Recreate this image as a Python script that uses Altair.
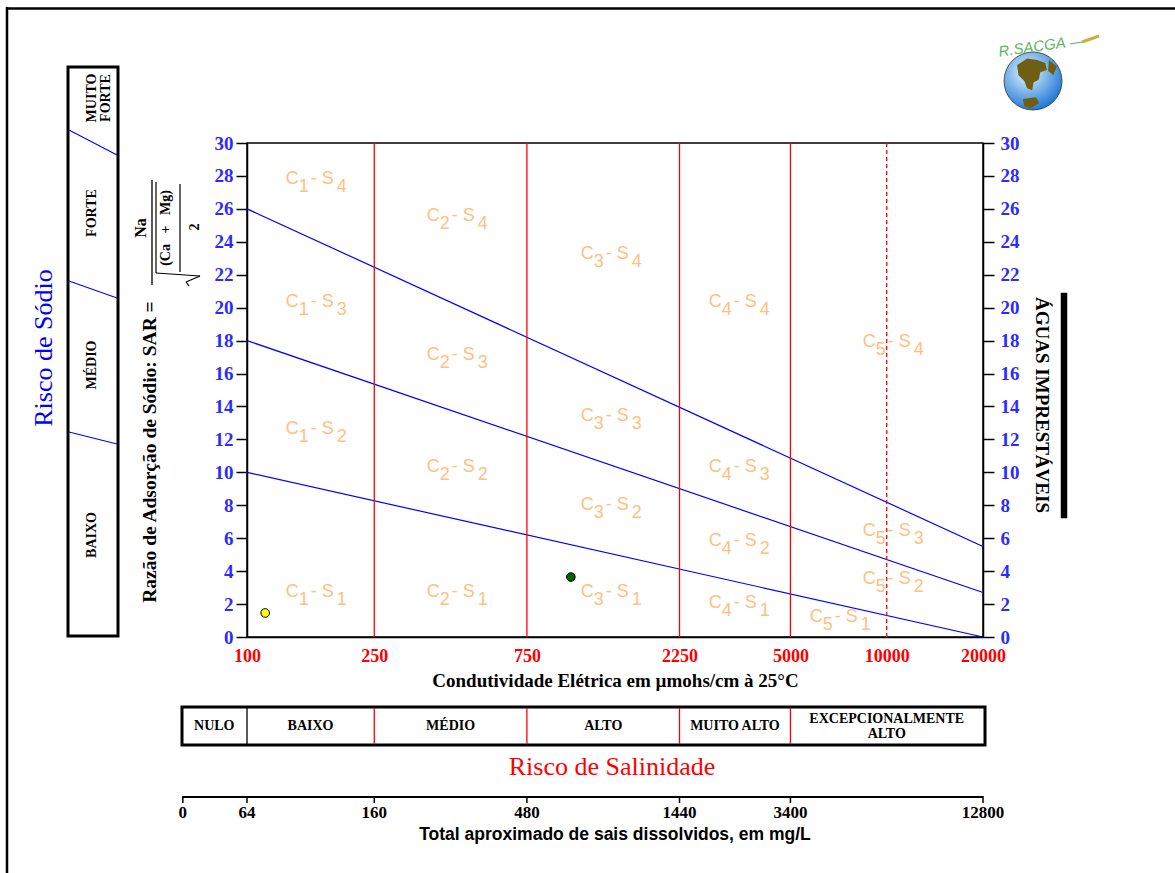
import altair as alt
import pandas as pd

# ---------------- data ----------------
ec_ticks = [100, 250, 750, 2250, 5000, 10000, 20000]
sar_ticks = [0, 2, 4, 6, 8, 10, 12, 14, 16, 18, 20, 22, 24, 26, 28, 30]

# sodium-hazard boundary lines (straight in log EC)
line_id = ["S1/S2", "S1/S2", "S2/S3", "S2/S3", "S3/S4", "S3/S4"]
line_ec = [100, 20000, 100, 20000, 100, 20000]
line_sar = [10, 0, 18, 2.7, 26, 5.5]

# salinity class limits
class_limit_ec = [250, 750, 2250, 5000]
class_limit_dashed_ec = [10000]

# zone labels C?-S?
zone_c = ["1", "2", "3", "4", "5"] * 4
zone_s = ["4"] * 5 + ["3"] * 5 + ["2"] * 5 + ["1"] * 5
zone_ec = [164, 453, 1372, 3447, 10444,
           164, 453, 1372, 3447, 10444,
           164, 453, 1372, 3447, 10444,
           164, 453, 1372, 3447, 7129]
zone_sar = [27.6, 25.3, 23.0, 20.1, 17.7,
            20.1, 16.9, 13.2, 10.1, 6.2,
            12.4, 10.1, 7.8, 5.6, 3.3,
            2.5, 2.5, 2.5, 1.8, 1.0]

# water samples
sample_ec = [114, 1029]
sample_sar = [1.46, 3.64]
sample_fill = ["#FFFF00", "#006400"]

# salinity hazard table
sal_classes = ["NULO", "BAIXO", "MÉDIO", "ALTO", "MUITO ALTO"]
sal_class_center_ec = [79, 158, 433, 1299, 3354]
sal_class_last = ["EXCEPCIONALMENTE\nALTO"]
sal_class_last_ec = [10000]
sal_divider_ec = [100, 250, 750, 2250, 5000]
sal_divider_color = ["black", "#FF0000", "#FF0000", "#FF0000", "#FF0000"]

# total dissolved solids scale (aligned with EC)
tds_labels = ["0", "64", "160", "480", "1440", "3400", "12800"]
tds_ec = [63, 100, 250, 750, 2250, 5000, 20000]

# sodium hazard classes (left panel)
sod_classes = ["MUITO\nFORTE", "FORTE", "MÉDIO", "BAIXO"]

# ---------------- layout helpers ----------------
W, H = 736, 494
OX, OY = 247, 143
SERIF = "Liberation Serif"
SANS = "Liberation Sans"
RED = "#FF0000"
BLUE = "#0000FF"
TBLUE = "#2B2BFF"
ORANGE = "#FFC080"
NB = "\u00a0"
ONE = pd.DataFrame({"k": [0]})


def px(x):
    return x - OX


def py(y):
    return y - OY


xscale = alt.Scale(type="log", domain=[100, 20000], nice=False)
yscale = alt.Scale(domain=[0, 30], nice=False, zero=False)
xaxis = alt.Axis(values=ec_ticks, format="d", title="Condutividade Elétrica em µmohs/cm à 25°C",
                 ticks=False, grid=False, labelColor=RED, labelFont=SERIF, labelFontWeight="bold",
                 labelFontSize=18, labelPadding=10, labelOverlap=False, labelFlush=False,
                 titleFont=SERIF, titleFontWeight="bold", titleFontSize=19, titleColor="black",
                 titlePadding=6, domainColor="black", domainWidth=1.5)


def yaxis(orient, pad):
    return alt.Axis(values=sar_ticks, orient=orient, title=None, grid=False, labelColor=TBLUE,
                    labelFont=SERIF, labelFontWeight="bold", labelFontSize=19, tickSize=11,
                    tickWidth=1.5, tickColor="black", domainColor="black", domainWidth=1.5,
                    labelPadding=pad)


def X():
    return alt.X("ec:Q", scale=xscale, axis=xaxis)


def Y(axis=None):
    return alt.Y("sar:Q", scale=yscale, axis=axis)


def rule(x1, y1, x2, y2, color="black", width=1.0, dash=None):
    kw = dict(color=color, strokeWidth=width)
    if dash:
        kw["strokeDash"] = dash
    return alt.Chart(ONE).mark_rule(**kw).encode(
        x=alt.value(px(x1)), y=alt.value(py(y1)), x2=alt.value(px(x2)), y2=alt.value(py(y2)))


def box(x1, y1, x2, y2, width=3, fill=None):
    kw = dict(stroke="black", strokeWidth=width)
    if fill:
        kw["fill"] = fill
    else:
        kw["fillOpacity"] = 0
    return alt.Chart(ONE).mark_rect(**kw).encode(
        x=alt.value(px(x1)), y=alt.value(py(y1)), x2=alt.value(px(x2)), y2=alt.value(py(y2)))


def text(s, x, y, size=12, color="black", font=SERIF, weight="bold", angle=0, style=None, lh=None):
    kw = dict(font=font, fontSize=size, color=color, fontWeight=weight, align="center",
              baseline="middle", lineBreak="\n", angle=angle)
    if style:
        kw["fontStyle"] = style
    if lh:
        kw["lineHeight"] = lh
    return alt.Chart(ONE).mark_text(**kw).encode(
        x=alt.value(px(x)), y=alt.value(py(y)), text=alt.value(s))


layers = []

# ---------------- main plot ----------------
df_lines = pd.DataFrame({"line": line_id, "ec": line_ec, "sar": line_sar})
layers.append(alt.Chart(df_lines).mark_line(color=BLUE, strokeWidth=1.2).encode(
    x=X(), y=Y(yaxis("left", 3)), detail="line:N"))

df_lim = pd.DataFrame({"ec": class_limit_ec})
layers.append(alt.Chart(df_lim).mark_rule(color=RED, strokeWidth=1.3).encode(
    x=X(), y=alt.value(0), y2=alt.value(H)))
df_limd = pd.DataFrame({"ec": class_limit_dashed_ec})
layers.append(alt.Chart(df_limd).mark_rule(color=RED, strokeWidth=1.3, strokeDash=[4, 3]).encode(
    x=X(), y=alt.value(0), y2=alt.value(H)))

df_zone = pd.DataFrame({"ec": zone_ec, "sar": zone_sar, "c": zone_c, "s": zone_s})
zt = dict(font=SANS, fontSize=18, color=ORANGE, align="left", baseline="middle")
layers.append(alt.Chart(df_zone).mark_text(dx=-30, dy=-4, **zt).encode(x=X(), y=Y(), text=alt.value("C")))
layers.append(alt.Chart(df_zone).mark_text(dx=-17, dy=4, **zt).encode(x=X(), y=Y(), text="c:N"))
layers.append(alt.Chart(df_zone).mark_text(dx=-5, dy=-4, **zt).encode(x=X(), y=Y(), text=alt.value("-" + NB + "S")))
layers.append(alt.Chart(df_zone).mark_text(dx=21, dy=4, **zt).encode(x=X(), y=Y(), text="s:N"))

df_samp = pd.DataFrame({"ec": sample_ec, "sar": sample_sar, "fill": sample_fill})
layers.append(alt.Chart(df_samp).mark_circle(size=75, opacity=1, stroke="black", strokeWidth=1).encode(
    x=X(), y=Y(yaxis("right", 6)), fill=alt.Fill("fill:N", scale=None)))

# ---------------- salinity table ----------------
layers.append(box(182, 707, 985, 745, 3))
df_div = pd.DataFrame({"ec": sal_divider_ec, "col": sal_divider_color})
layers.append(alt.Chart(df_div).mark_rule(strokeWidth=1.3).encode(
    x=X(), y=alt.value(py(708)), y2=alt.value(py(744)), color=alt.Color("col:N", scale=None)))
tbl = dict(font=SERIF, fontSize=14, fontWeight="bold", color="black", baseline="middle",
           lineBreak="\n", lineHeight=15)
df_cls = pd.DataFrame({"ec": sal_class_center_ec, "lab": sal_classes})
layers.append(alt.Chart(df_cls).mark_text(**tbl).encode(
    x=X(), y=alt.value(py(726)), text="lab:N"))
df_cls2 = pd.DataFrame({"ec": sal_class_last_ec, "lab": sal_class_last})
layers.append(alt.Chart(df_cls2).mark_text(**tbl).encode(
    x=X(), y=alt.value(py(719)), text="lab:N"))
layers.append(text("Risco de Salinidade", 612, 767, size=26, color=RED, weight="normal"))

# ---------------- TDS scale ----------------
df_tds_line = pd.DataFrame({"ec": [tds_ec[0]], "ec2": [tds_ec[-1]]})
layers.append(alt.Chart(df_tds_line).mark_rule(color="black", strokeWidth=2).encode(
    x=X(), x2="ec2:Q", y=alt.value(py(797))))
df_tds = pd.DataFrame({"ec": tds_ec, "lab": tds_labels})
layers.append(alt.Chart(df_tds).mark_rule(color="black", strokeWidth=1.5).encode(
    x=X(), y=alt.value(py(796)), y2=alt.value(py(803))))
layers.append(alt.Chart(df_tds).mark_text(font=SERIF, fontSize=17, fontWeight="bold", color="black",
                                          baseline="middle").encode(
    x=X(), y=alt.value(py(813)), text="lab:N"))
layers.append(text("Total aproximado de sais dissolvidos, em mg/L", 615, 835, size=17.5, font=SANS))

# ---------------- left panel: sodium hazard ----------------
layers.append(box(68, 67, 118, 636, 3))
layers.append(rule(69, 130, 117, 155, BLUE, 1.1))
layers.append(rule(69, 281, 117, 298, BLUE, 1.1))
layers.append(rule(69, 432, 117, 444, BLUE, 1.1))
for lab, yy in zip(sod_classes, [98, 213, 365, 535]):
    layers.append(text(lab, 92, yy, size=14, angle=270, lh=14))
layers.append(text("Risco de Sódio", 44, 348, size=26, color=BLUE, weight="normal", angle=270))

# SAR formula
layers.append(text("Razão de Adsorção de Sódio: SAR =", 150, 452, size=19.5, angle=270))
layers.append(text("Na", 141, 228, size=16, angle=270))
layers.append(rule(152, 180, 152, 285, "black", 1.3))
layers.append(rule(156, 182, 156, 273, "black", 1.2))
layers.append(rule(156, 273, 200, 276, "black", 1.2))
layers.append(rule(200, 276, 186, 282, "black", 1.2))
layers.append(rule(186, 282, 189, 286, "black", 1.2))
layers.append(text("(Ca" + NB * 3 + "+" + NB * 3 + "Mg)", 166, 228, size=14, angle=270))
layers.append(rule(180, 184, 180, 272, "black", 1.2))
layers.append(text("2", 195, 227, size=14, angle=270))

# ---------------- right: unusable waters ----------------
layers.append(text("ÁGUAS IMPRESTÁVEIS", 1042, 405, size=19, angle=90))
layers.append(box(1061, 293, 1067, 518, 0.5, fill="black"))

# ---------------- outer frame ----------------
layers.append(rule(6, 8.5, 1175, 8.5, "black", 2.5))
layers.append(rule(7, 7, 7, 873, "black", 2.5))

# ---------------- logo ----------------
globe_fill = {"gradient": "radial", "x1": 0.4, "y1": 0.35, "r1": 0.0, "x2": 0.4, "y2": 0.35, "r2": 0.7,
              "stops": [{"offset": 0, "color": "#E4F6FF"}, {"offset": 1, "color": "#1673D4"}]}
layers.append(alt.Chart(ONE).mark_point(shape="circle", filled=True, size=58 * 58, fill=globe_fill,
                                        stroke="#333333", strokeWidth=0.8, opacity=1).encode(
    x=alt.value(px(1033)), y=alt.value(py(81))))
continents = ("M-0.55,-0.55 L-0.2,-0.78 L0.15,-0.72 L0.42,-0.62 L0.48,-0.38 L0.25,-0.3 L0.2,-0.05 "
              "L0.02,0.05 L-0.03,0.32 L-0.2,0.25 L-0.3,0.0 L-0.5,-0.2 Z "
              "M0.55,-0.72 L0.82,-0.5 L0.7,-0.2 L0.52,-0.35 Z "
              "M-0.35,0.62 L0.1,0.56 L0.22,0.76 L-0.1,0.95 L-0.3,0.86 Z")
layers.append(alt.Chart(ONE).mark_point(shape=continents, filled=True, size=58 * 58, fill="#6E5F12",
                                        opacity=1, strokeWidth=0).encode(
    x=alt.value(px(1033)), y=alt.value(py(81))))
layers.append(text("R.SACGA", 1032, 47, size=15, color="#5DB85D", font=SANS, weight="normal",
                   angle=352, style="italic"))
layers.append(rule(1070, 44, 1082, 42, "#5DB85D", 1.2))
layers.append(rule(1082, 42, 1099, 36, "#C9B23A", 3))

chart = alt.layer(*layers).properties(
    width=W, height=H,
    autosize=alt.AutoSizeParams(type="none"),
    padding={"left": OX, "top": OY, "right": 1175 - OX - W, "bottom": 873 - OY - H},
    background="white",
).resolve_axis(y="independent").configure_view(stroke="black", strokeWidth=1.5)

chart.save("out.html", embed_options={"renderer": "svg", "actions": False})
